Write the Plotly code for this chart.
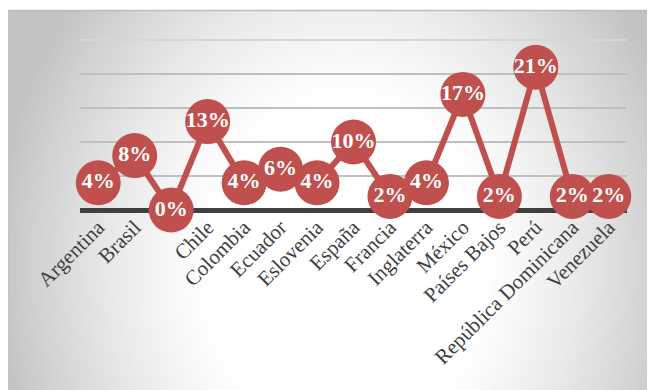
import base64, struct, zlib, math
import plotly.graph_objects as go

# ---- data ----
categories = ["Argentina", "Brasil", "", "Chile", "Colombia", "Ecuador", "Eslovenia",
              "España", "Francia", "Inglaterra", "México", "Países Bajos", "Perú",
              "República Dominicana", "Venezuela"]
values = [4, 8, 0, 13, 4, 6, 4, 10, 2, 4, 17, 2, 21, 2, 2]
labels = [f"{v}%" for v in values]
grid_vals = [5, 10, 15, 20, 25]

# page body has an 8px margin; figure coords = page coords - 8
OFF = 8
W, H = 655 - OFF, 390 - OFF
L, R, T, B = 80 - OFF, 28, 40 - OFF, 180
pw, ph = W - L - R, H - T - B

# ---- radial gradient background as PNG ----
bx0, by0, bx1, by1 = 0, 2, W, H
gw, gh = 162, 95
cx, cy, rx, ry = 345 - OFF, 265 - OFF, 335, 400
rows = []
for j in range(gh):
    py = by0 + (j + 0.5) * (by1 - by0) / gh
    row = []
    for i in range(gw):
        px = bx0 + (i + 0.5) * (bx1 - bx0) / gw
        t = math.sqrt(((px - cx) / rx) ** 2 + ((py - cy) / ry) ** 2)
        f = min(max((t - 0.4) / 0.65, 0), 1) ** 1.3
        row.append(int(round(255 - 60 * f)))
    rows.append(row)

def make_png(w, h, rows):
    raw = b"".join(b"\x00" + bytes(r) for r in rows)
    def chunk(tag, data):
        c = struct.pack(">I", len(data)) + tag + data
        return c + struct.pack(">I", zlib.crc32(tag + data) & 0xffffffff)
    return (b"\x89PNG\r\n\x1a\n" + chunk(b"IHDR", struct.pack(">IIBBBBB", w, h, 8, 0, 0, 0, 0))
            + chunk(b"IDAT", zlib.compress(raw, 9)) + chunk(b"IEND", b""))

img = "data:image/png;base64," + base64.b64encode(make_png(gw, gh, rows)).decode()

def paper_x(x):
    return (x - L) / pw

def paper_y(y):
    return (H - B - y) / ph

red = "#C0504D"
fig = go.Figure(go.Scatter(
    x=list(range(len(categories))), y=values,
    mode="lines+markers+text",
    line=dict(color=red, width=6),
    marker=dict(color=red, size=45, line=dict(width=0)),
    text=labels, textposition="middle center",
    textfont=dict(family="Liberation Serif", size=22, color="white", weight="bold"),
    cliponaxis=False, hoverinfo="skip",
))

fig.update_layout(
    width=W, height=H,
    margin=dict(l=L, r=R, t=T, b=B),
    paper_bgcolor="white", plot_bgcolor="rgba(0,0,0,0)",
    showlegend=False,
    images=[dict(source=img, xref="paper", yref="paper",
                 x=paper_x(bx0), y=paper_y(by0),
                 sizex=(bx1 - bx0) / pw, sizey=(by1 - by0) / ph,
                 xanchor="left", yanchor="top", sizing="stretch", layer="below")],
    shapes=[dict(type="line", xref="paper", yref="paper",
                 x0=paper_x(bx0), x1=paper_x(bx1), y0=paper_y(by0 + 0.5), y1=paper_y(by0 + 0.5),
                 line=dict(color="#bdbdbd", width=1.5), layer="below"),
            dict(type="line", xref="paper", yref="paper",
                 x0=paper_x(bx0 + 0.5), x1=paper_x(bx0 + 0.5), y0=paper_y(by0), y1=paper_y(by1),
                 line=dict(color="#c4c4c4", width=1.5), layer="below"),
            dict(type="line", xref="paper", yref="paper",
                 x0=0, x1=1, y0=1, y1=1,
                 line=dict(color="#d6d6d6", width=2), layer="below")],
    xaxis=dict(
        range=[-0.5, len(categories) - 0.5],
        tickmode="array", tickvals=list(range(len(categories))), ticktext=categories,
        tickangle=-45, tickfont=dict(family="Liberation Serif", size=21, color="#404040"),
        showgrid=False, zeroline=False, showline=False, ticks="",
    ),
    yaxis=dict(
        range=[0, 25], tickmode="array", tickvals=grid_vals, showticklabels=False,
        showgrid=True, gridcolor="#bfbfbf", gridwidth=2,
        zeroline=True, zerolinecolor="#404040", zerolinewidth=5,
    ),
)

fig.write_html("out.html")
